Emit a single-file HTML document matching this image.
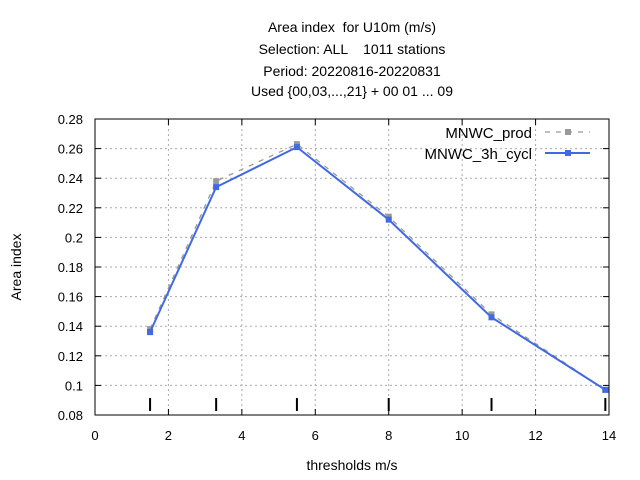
<!DOCTYPE html>
<html><head><meta charset="utf-8"><style>
body{margin:0;background:#fff;}
svg{display:block;font-family:"Liberation Sans",sans-serif;}
text{white-space:pre;}
</style></head><body>
<svg id="c" width="640" height="480">
<g font-size="14" text-anchor="middle" fill="#000">
<text x="352" y="32">Area index  for U10m (m/s)</text>
<text x="352" y="54">Selection: ALL    1011 stations</text>
<text x="352" y="76">Period: 20220816-20220831</text>
<text x="352" y="96">Used {00,03,...,21} + 00 01 ... 09</text>
</g>
<g id="grid"></g><g id="axes"></g><g id="series"></g>
<text x="352" y="470" font-size="14" text-anchor="middle">thresholds m/s</text>
<text transform="translate(21,267) rotate(-90)" font-size="14" text-anchor="middle">Area index</text>
<g font-size="15" text-anchor="end">
<text x="532" y="138">MNWC_prod</text>
<line x1="545" y1="132" x2="590" y2="132" stroke="#999" stroke-width="1.3" stroke-dasharray="5,6"/>
<rect x="565" y="129" width="6" height="6" fill="#999"/>
<text x="532" y="159">MNWC_3h_cycl</text>
<line x1="545" y1="153" x2="590" y2="153" stroke="#4169e1" stroke-width="2"/>
<rect x="565" y="150" width="6" height="6" fill="#4169e1"/>
</g>
</svg>
<script>
const xs=[1.5,3.3,5.5,8,10.8,13.9];
const prod=[0.138,0.238,0.263,0.214,0.148,0.097];
const cycl=[0.136,0.234,0.261,0.212,0.146,0.097];
const xTicks=[0,2,4,6,8,10,12,14];
const yTicks=[0.08,0.1,0.12,0.14,0.16,0.18,0.2,0.22,0.24,0.26,0.28];
const yLabels=["0.08","0.1","0.12","0.14","0.16","0.18","0.2","0.22","0.24","0.26","0.28"];
const L=95,R=609,T=119,B=415;
const X=v=>L+(v-0)/14*(R-L);
const Y=v=>B-(v-0.08)/0.2*(B-T);
const NS="http://www.w3.org/2000/svg";
function mk(t,a,p){const e=document.createElementNS(NS,t);for(const k in a)e.setAttribute(k,a[k]);p.appendChild(e);return e;}
const g=document.getElementById('grid'),ax=document.getElementById('axes'),s=document.getElementById('series');
xTicks.forEach(v=>{
 if(v>0&&v<14){const l=mk('line',{x1:X(v),x2:X(v),y1:T,y2:B,stroke:'#aaa','stroke-dasharray':'2,3'},g);
 
 }
 mk('line',{x1:X(v),x2:X(v),y1:B,y2:B-6,stroke:'#000'},ax);
 mk('line',{x1:X(v),x2:X(v),y1:T,y2:T+6,stroke:'#000'},ax);
 const t=mk('text',{x:X(v),y:B+25,'font-size':13,'text-anchor':'middle'},ax);t.textContent=v;
 
 
});
yTicks.forEach((v,i)=>{
 if(i>0&&i<yTicks.length-1){const l=mk('line',{x1:L,x2:R,y1:Y(v),y2:Y(v),stroke:'#aaa','stroke-dasharray':'2,3'},g);
 
 }
 mk('line',{x1:L,x2:L+6,y1:Y(v),y2:Y(v),stroke:'#000'},ax);
 mk('line',{x1:R,x2:R-6,y1:Y(v),y2:Y(v),stroke:'#000'},ax);
 const t=mk('text',{x:L-12,y:Y(v)+5,'font-size':13,'text-anchor':'end'},ax);t.textContent=yLabels[i];
 
 
});
const f=mk('rect',{x:L,y:T,width:R-L,height:B-T,fill:'none',stroke:'#000'},ax);


xs.forEach(v=>{const m=mk('line',{x1:X(v),x2:X(v),y1:398,y2:411,stroke:'#000','stroke-width':2},ax);
 
 });
function draw(vals,col,w,dash,name){
 const p=mk('polyline',{points:xs.map((x,i)=>X(x)+','+Y(vals[i])).join(' '),fill:'none',stroke:col,'stroke-width':w,'stroke-dasharray':dash},s);
 
 
 xs.forEach((x,i)=>{const r=mk('rect',{x:X(x)-3,y:Y(vals[i])-3,width:6,height:6,fill:col},s);
 
 });
}
draw(prod,'#999',1.3,'5,6','prod');
draw(cycl,'#4169e1',2,'none','cycl');
</script>
</body></html>
